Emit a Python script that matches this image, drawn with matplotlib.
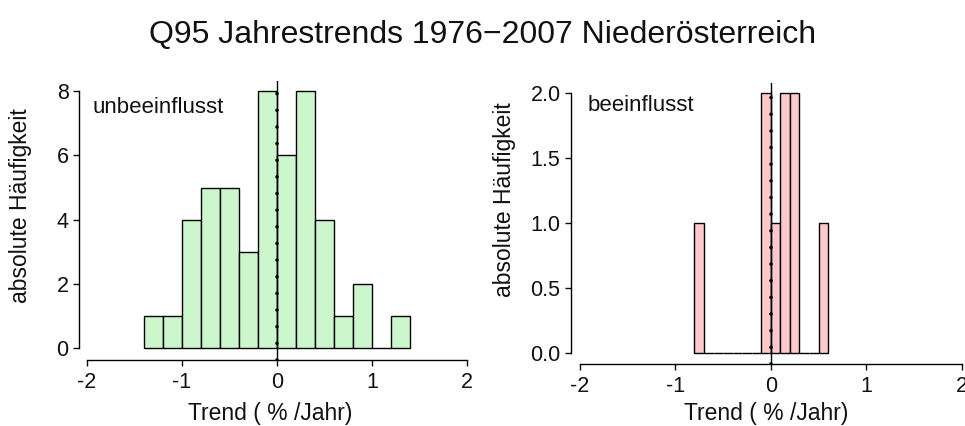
import numpy as np
import matplotlib
matplotlib.use("Agg")
import matplotlib.pyplot as plt

plt.rcParams['font.family'] = ['Liberation Sans', 'DejaVu Sans']

# histogram of annual Q95 trends (% / year)
unb_edges = [-1.4, -1.2, -1.0, -0.8, -0.6, -0.4, -0.2, 0.0, 0.2, 0.4, 0.6, 0.8, 1.0, 1.2, 1.4]
unb_counts = [1, 1, 4, 5, 5, 3, 8, 6, 8, 4, 1, 2, 0, 1]

bee_edges = [-0.8, -0.7, -0.6, -0.5, -0.4, -0.3, -0.2, -0.1, 0.0, 0.1, 0.2, 0.3, 0.4, 0.5, 0.6]
bee_counts = [1, 0, 0, 0, 0, 0, 0, 2, 1, 2, 2, 0, 0, 1]

x_ticks = [-2, -1, 0, 1, 2]
unb_yticks = [0, 2, 4, 6, 8]
bee_yticks = [0.0, 0.5, 1.0, 1.5, 2.0]

fig = plt.figure(figsize=(9.65, 4.26), dpi=100)
fig.text(0.5, 0.918, "Q95 Jahrestrends 1976\u22122007 Nieder\u00f6sterreich",
         ha='center', va='center', fontsize=23, color='#111111')


def panel(rect, edges, counts, color, xlim, ylim, yticks, ylabels, label, label_xy,
          ylab_xy, xlab_xy):
    ax = fig.add_axes(rect)
    widths = np.diff(edges)
    ax.bar(edges[:-1], counts, width=widths, align='edge', color=color,
           edgecolor='black', linewidth=1.0, zorder=2)
    # reference line at zero trend
    ax.axvline(0, color='black', lw=1.0, zorder=3)
    ax.axvline(0, color='black', lw=2.6, linestyle=(0, (0.01, 4.6)),
               dash_capstyle='round', zorder=3)
    ax.set_xlim(*xlim)
    ax.set_ylim(*ylim)
    for s in ('top', 'right'):
        ax.spines[s].set_visible(False)
    ax.spines['left'].set_bounds(yticks[0], yticks[-1])
    ax.spines['bottom'].set_bounds(x_ticks[0], x_ticks[-1])
    ax.spines['left'].set_linewidth(1.0)
    ax.spines['bottom'].set_linewidth(1.0)
    ax.set_xticks(x_ticks)
    ax.set_xticklabels([str(t) for t in x_ticks])
    ax.set_yticks(yticks)
    ax.set_yticklabels(ylabels)
    ax.tick_params(axis='both', length=4.5, width=1.0, labelsize=15.5, colors='#111111')
    ax.tick_params(axis='x', pad=4)
    ax.tick_params(axis='y', pad=3)
    ax.set_xlabel("Trend ( % /Jahr)", fontsize=16.5, color='#111111')
    ax.set_ylabel("absolute H\u00e4ufigkeit", fontsize=16.5, color='#111111')
    ax.xaxis.set_label_coords(*xlab_xy)
    ax.yaxis.set_label_coords(*ylab_xy)
    ax.xaxis.label.set_va('center')
    ax.yaxis.label.set_va('center')
    ax.text(label_xy[0], label_xy[1], label, fontsize=16, ha='left', va='center',
            color='#111111')
    return ax


panel([0.0819, 0.1549, 0.4176, 0.655], unb_edges, unb_counts, '#ccf7cc',
      (-2.084, 2.16), (-0.37, 8.32), unb_yticks, [str(t) for t in unb_yticks],
      "unbeeinflusst", (-1.94, 7.5), (-0.146, 0.552), (0.474, -0.19))
panel([0.5917, 0.1455, 0.4207, 0.6596], bee_edges, bee_counts, '#fccaca',
      (-2.094, 2.16), (-0.085, 2.08), bee_yticks, [f"{t:.1f}" for t in bee_yticks],
      "beeinflusst", (-1.92, 1.91), (-0.163, 0.584), (0.48, -0.175))

fig.savefig("out.png", dpi=100)
